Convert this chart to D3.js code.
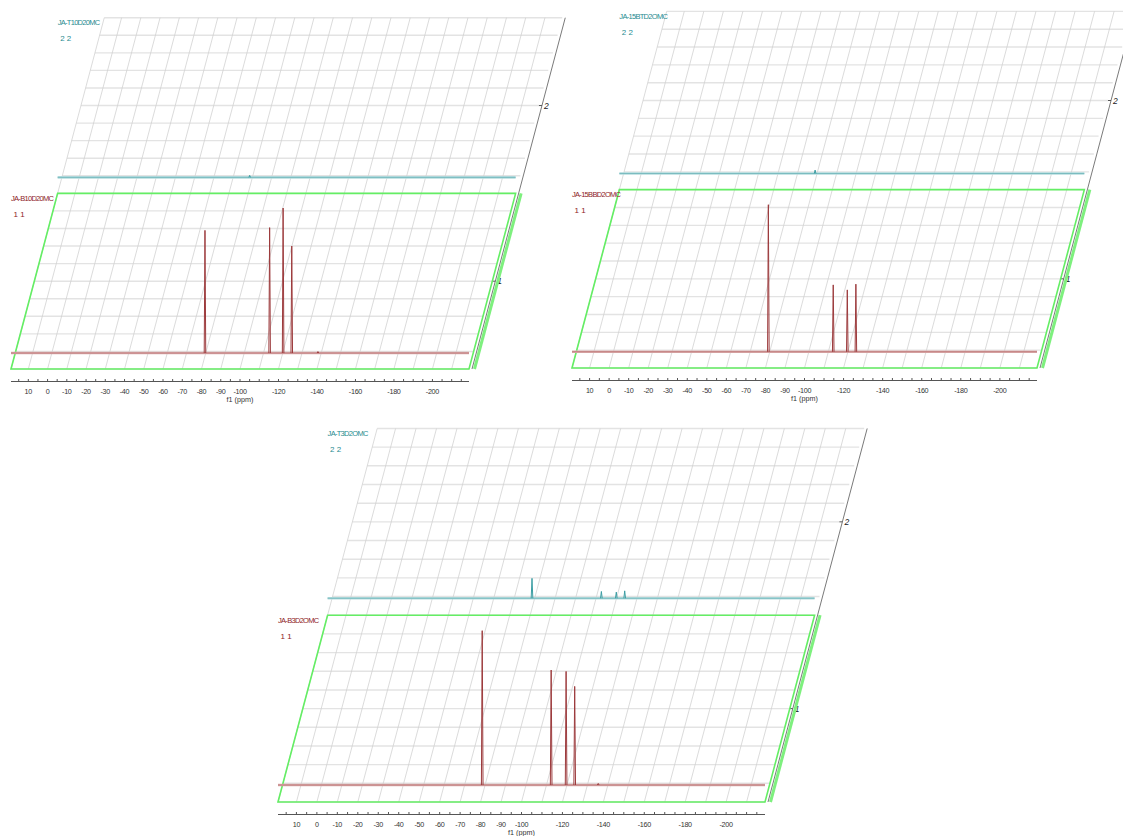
<!DOCTYPE html>
<html>
<head>
<meta charset="utf-8">
<script src="https://cdn.jsdelivr.net/npm/d3@7"></script>
<style>
    body { margin: 0; background: #fff; }
    svg text { font-family: "Liberation Sans", Arial, sans-serif; }
</style>
</head>
<body>
<svg id="chart" width="1123" height="836"></svg>
<script>
// f1 axis (ppm), shared by all three stacked plots
const ppmDomain = [19, -219]
const gridPpm = d3.range(10, -211, -10)
const minorTickPpm = d3.range(15, -216, -5)
const tickLabelPpm = [10, 0, -10, -20, -30, -40, -50, -60, -70, -80, -90, -100, -120, -140, -160, -180, -200]
const planeNumbers = ['1', '2']
const planeTags = ['1 1', '2 2']
const intensityDomain = [-0.11, 1.1]

// spectrum names: [front, back]
const namesA = ['JA-B10D20MC', 'JA-T10D20MC']
const namesB = ['JA-15BBD2OMC', 'JA-15BTD2OMC']
const namesC = ['JA-B3D2OMC', 'JA-T3D2OMC']

// peaks as [ppm, relative intensity]
const peaksA1 = [[-81.8, 0.845], [-115.4, 0.864], [-122.4, 0.999], [-126.9, 0.737], [-140.5, 0.01]]
const peaksA2 = [[-80.8, 0.014]]
const peaksB1 = [[-81.5, 0.998], [-114.7, 0.454], [-121.9, 0.42], [-126.3, 0.459]]
const peaksB2 = [[-81.2, 0.023]]
const peaksC1 = [[-80.8, 1.0], [-114.5, 0.745], [-121.8, 0.736], [-126.0, 0.639], [-137.5, 0.01]]
const peaksC2 = [[-80.9, 0.129], [-114.8, 0.044], [-122.1, 0.04], [-126.2, 0.048]]

const svg = d3.select('#chart')

const panels = [
    { x0: 11, yb: 369, w: 458, names: namesA, spectra: [peaksA1, peaksA2] },
    { x0: 572, yb: 368, w: 465, names: namesB, spectra: [peaksB1, peaksB2] },
    { x0: 278, yb: 802, w: 487, names: namesC, spectra: [peaksC1, peaksC2] }
]

const colors = [
    { line: '#9c3a3c', base: '#b66b6c', fuzz: '#dcb0b0', label: '#8e2228' },
    { line: '#3b9da3', base: '#6ab3b7', fuzz: '#b5dcde', label: '#1f8b90' }
]

panels.forEach(drawPanel)

function peakPoints(c, h) {
    return [[c + 0.4, 0], [c, h], [c - 0.4, 0]]
}

function drawPanel(p) {
    const g = svg.append('g')
    const x = d3.scaleLinear().domain(ppmDomain).range([p.x0, p.x0 + p.w])
    const H = p.w * 0.3835, skew = H * 0.2655
    const right = p.x0 + p.w

    // skewed grid through both planes
    const grid = g.append('g')
    grid.selectAll('line.h')
        .data(d3.range(0, 21).map(k => k / 10))
        .join('line')
        .attr('x1', t => p.x0 + t * skew)
        .attr('x2', t => right + t * skew)
        .attr('y1', t => p.yb - t * H)
        .attr('y2', t => p.yb - t * H)
        .attr('stroke', '#e3e3e3')
        .attr('stroke-width', 1.4)

    grid.selectAll('line.v')
        .data([ppmDomain[0]].concat(gridPpm))
        .join('line')
        .attr('x1', d => x(d))
        .attr('x2', d => x(d) + 2 * skew)
        .attr('y1', p.yb)
        .attr('y2', p.yb - 2 * H)
        .attr('stroke', '#d2d2d2')
        .attr('stroke-width', 0.8)

    // z axis along the right side
    g.append('line')
        .attr('x1', right + 3).attr('y1', p.yb)
        .attr('x2', right + 3 + 2 * skew).attr('y2', p.yb - 2 * H)
        .attr('stroke', '#7a7a7a')
        .attr('stroke-width', 1)

    planeNumbers.forEach((n, i) => {
        const t = i + 0.5
        const zx = right + 3 + t * skew, zy = p.yb - t * H
        g.append('line')
            .attr('x1', zx - 3).attr('x2', zx).attr('y1', zy).attr('y2', zy)
            .attr('stroke', '#555')
        g.append('text')
            .attr('x', zx + 2).attr('y', zy + 3)
            .attr('font-size', 8.5)
            .attr('font-style', 'italic')
            .attr('fill', '#222')
            .text(n)
    })

    // front plane outline
    const plane = [[p.x0, p.yb], [right, p.yb], [right + skew, p.yb - H], [p.x0 + skew, p.yb - H]]
    g.append('path')
        .attr('d', d3.line()(plane) + 'Z')
        .attr('fill', 'none')
        .attr('stroke', '#64ee64')
        .attr('stroke-width', 1.6)
    g.append('line')
        .attr('x1', right + 5.5).attr('y1', p.yb)
        .attr('x2', right + 5.5 + skew).attr('y2', p.yb - H)
        .attr('stroke', '#7ef07e')
        .attr('stroke-width', 3)

    // spectra, back first
    p.spectra.map((peaks, i) => ({ peaks, i })).reverse().forEach(({ peaks, i }) => {
        const y = d3.scaleLinear().domain(intensityDomain).range([p.yb - i * H, p.yb - (i + 1) * H])
        const line = d3.line().x(d => x(d[0]) + i * skew).y(d => y(d[1]))
        const baseline = [[ppmDomain[0], 0], [ppmDomain[1], 0]]

        g.append('path')
            .attr('d', line(baseline))
            .attr('stroke', colors[i].fuzz)
            .attr('stroke-width', 2.6)
            .attr('fill', 'none')
        g.append('path')
            .attr('d', line(baseline))
            .attr('stroke', colors[i].base)
            .attr('stroke-width', 0.8)
            .attr('fill', 'none')

        g.selectAll(null)
            .data(peaks)
            .join('path')
            .attr('d', d => line(peakPoints(d[0], d[1])))
            .attr('stroke', colors[i].line)
            .attr('stroke-width', 1)
            .attr('fill', 'none')

        const top = p.yb - (i + 1) * H
        g.append('text')
            .attr('x', p.x0 + i * skew)
            .attr('y', top + 7.5)
            .attr('font-size', 7.5)
            .attr('letter-spacing', -0.7)
            .attr('fill', colors[i].label)
            .text(p.names[i])
        g.append('text')
            .attr('x', p.x0 + i * skew + 2.5)
            .attr('y', top + 23.5)
            .attr('font-size', 8)
            .attr('fill', colors[i].label)
            .text(planeTags[i])
    })

    // f1 axis
    const ay = p.yb + 12.5
    const axis = g.append('g')
    axis.append('line')
        .attr('x1', p.x0).attr('x2', right)
        .attr('y1', ay).attr('y2', ay)
        .attr('stroke', '#555')
    axis.selectAll('line.tick')
        .data(minorTickPpm)
        .join('line')
        .attr('x1', d => x(d)).attr('x2', d => x(d))
        .attr('y1', ay).attr('y2', ay - 2.5)
        .attr('stroke', '#555')
    axis.selectAll('text')
        .data(tickLabelPpm)
        .join('text')
        .attr('x', d => x(d))
        .attr('y', ay + 12.5)
        .attr('text-anchor', 'middle')
        .attr('font-size', 7.2)
        .attr('letter-spacing', -0.3)
        .attr('fill', '#333')
        .text(d => d)
    axis.append('text')
        .attr('x', (p.x0 + right) / 2)
        .attr('y', ay + 20.5)
        .attr('text-anchor', 'middle')
        .attr('font-size', 7.2)
        .attr('fill', '#333')
        .text('f1 (ppm)')
}
</script>
</body>
</html>
